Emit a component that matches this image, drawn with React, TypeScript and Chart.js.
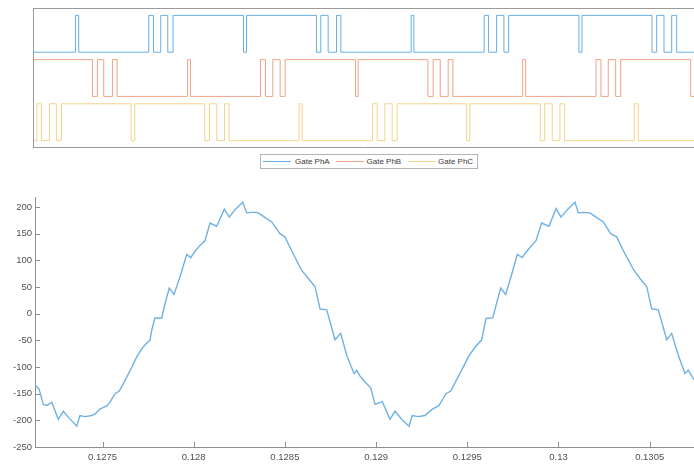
import React, { useEffect, useRef } from 'react';
import { Chart, registerables } from 'chart.js';

Chart.register(...registerables);

// ---------- data ----------
// Gate signals: switching instants (s); each instant toggles the state
const GATE_A_START = 0;
const GATE_A_EDGES = [
  0.1273531, 0.1273712, 0.1277549, 0.1277807, 0.1278207, 0.1278591, 0.1278882,
  0.1282741, 0.1282906, 0.1286744, 0.1286979, 0.128738, 0.128784, 0.1288076,
  0.129193, 0.1292078, 0.1295932, 0.1296173, 0.1296612, 0.1297012, 0.129727,
  0.1301124, 0.1301289, 0.1305126, 0.1305384, 0.1305784, 0.1306206, 0.130648,
];
const GATE_B_START = 1;
const GATE_B_EDGES = [
  0.1274463, 0.1274737, 0.1275082, 0.1275559, 0.1275811, 0.1279671, 0.1279836,
  0.1283673, 0.1283947, 0.1284348, 0.1284748, 0.1285022, 0.1288882, 0.1289024,
  0.1292846, 0.1293136, 0.129352, 0.1293959, 0.1294216, 0.1298038, 0.1298202,
  0.1302056, 0.130233, 0.130273, 0.1303136, 0.130341, 0.1307248,
];
const GATE_C_START = 0;
const GATE_C_EDGES = [
  0.1271425, 0.1271667, 0.1272105, 0.1272489, 0.1272763, 0.1276579, 0.1276782,
  0.128062, 0.1280877, 0.1281277, 0.12817, 0.1281952, 0.128579, 0.1285954,
  0.1289814, 0.1290066, 0.1290488, 0.1290888, 0.1291162, 0.1294967, 0.1295148,
  0.1299002, 0.1299244, 0.129966, 0.1300082, 0.130034, 0.1304156, 0.1304376,
];
const GATE_NAMES = ['Gate PhA', 'Gate PhB', 'Gate PhC'];
const GATE_OFFSETS = [2.4, 1.2, 0];

// Phase current
const CURRENT_T = [
  0.1271299, 0.1271519, 0.1271754, 0.1271941, 0.1272215, 0.1272577, 0.1272851, 0.1273125,
  0.1273586, 0.1273766, 0.1274041, 0.1274408, 0.1274589, 0.1274863, 0.127523, 0.1275411,
  0.1275685, 0.1275921, 0.1276234, 0.1276601, 0.1276875, 0.1277149, 0.1277423, 0.1277604,
  0.1277697, 0.1277878, 0.1278246, 0.1278427, 0.1278662, 0.127892, 0.1279249, 0.1279616,
  0.1279836, 0.1280071, 0.1280345, 0.128062, 0.1280894, 0.1281261, 0.1281678, 0.1281952,
  0.1282264, 0.1282686, 0.1282906, 0.128318, 0.1283454, 0.1283635, 0.1283909, 0.1284276,
  0.1284731, 0.1285006, 0.128546, 0.1285921, 0.1286283, 0.128665, 0.1286924, 0.1287292,
  0.1287747, 0.1288059, 0.1288388, 0.1288789, 0.1288936, 0.1289117, 0.1289392, 0.1289704,
  0.128994, 0.129034, 0.1290762, 0.1291036, 0.1291404, 0.1291804, 0.1291985, 0.1292314,
  0.1292681, 0.1293048, 0.1293449, 0.1293832, 0.129409, 0.12946, 0.1295055, 0.1295422,
  0.129579, 0.1296025, 0.1296393, 0.1296831, 0.1297105, 0.1297434, 0.1297741, 0.1298015,
  0.1298257, 0.1298766, 0.1299079, 0.1299479, 0.1299863, 0.1300137, 0.1300483, 0.1300905,
  0.1301086, 0.130136, 0.1301727, 0.1302094, 0.1302456, 0.1302862, 0.1303191, 0.1303646,
  0.130414, 0.1304468, 0.1304836, 0.130511, 0.1305472, 0.1305932, 0.1306206, 0.1306568,
  0.1306935, 0.1307116, 0.1307429,
];
const CURRENT_A = [
  -134, -141, -170, -172, -166, -198, -183, -194,
  -211, -191, -193, -191, -188, -179, -173, -166,
  -150, -145, -125, -101, -81, -66, -55, -50,
  -31, -8, -8, 19, 48, 36, 69, 111,
  105, 117, 128, 137, 170, 164, 196, 181,
  195, 209, 189, 190, 190, 187, 180, 172,
  150, 144, 112, 81, 66, 51, 9, 7,
  -49, -37, -78, -112, -106, -117, -128, -139,
  -170, -165, -198, -183, -198, -211, -191, -193,
  -191, -180, -172, -150, -145, -112, -81, -63,
  -49, -9, -8, 48, 36, 74, 111, 105,
  117, 137, 170, 164, 197, 181, 195, 209,
  189, 190, 189, 180, 172, 150, 144, 112,
  81, 66, 51, 9, 7, -49, -37, -78,
  -112, -106, -124,
];

const X_TICKS = [0.1275, 0.128, 0.1285, 0.129, 0.1295, 0.13, 0.1305];
const X_TICK_LABELS = ['0.1275', '0.128', '0.1285', '0.129', '0.1295', '0.13', '0.1305'];
const Y_TICKS = [-250, -200, -150, -100, -50, 0, 50, 100, 150, 200];
const Y_TICK_LABELS = ['-250', '-200', '-150', '-100', '-50', '0', '50', '100', '150', '200'];

// ---------- styling ----------
const X_MIN_TOP = 0.1271206;
const X_MIN_BOT = 0.1271299;
const X_MAX = 0.1307429;
const Y_MIN = -250;
const Y_MAX = 218.75;
const GATE_COLORS = ['#68aee2', '#f0a385', '#f4d38c'];
const CURRENT_COLOR = '#6eb1e4';
const AXIS_COLOR = '#8f8f8f';
const FONT = '"Liberation Sans", Arial, Helvetica, sans-serif';

function stepPoints(edges: number[], start: number, offset: number, xmin: number, xmax: number) {
  let s = start;
  const pts = [{ x: xmin, y: offset + s }];
  for (const t of edges) {
    s = 1 - s;
    pts.push({ x: t, y: offset + s });
  }
  pts.push({ x: xmax, y: offset + s });
  return pts;
}

const boxPlugin = {
  id: 'boxPlugin',
  afterDraw(chart: any) {
    const { ctx, chartArea } = chart;
    ctx.save();
    ctx.strokeStyle = '#9a9a9a';
    ctx.lineWidth = 1;
    ctx.beginPath();
    ctx.moveTo(chartArea.left + 0.5, chartArea.top + 0.5);
    ctx.lineTo(chartArea.right, chartArea.top + 0.5);
    ctx.moveTo(chartArea.left + 0.5, chartArea.top);
    ctx.lineTo(chartArea.left + 0.5, chartArea.bottom);
    ctx.moveTo(chartArea.left, chartArea.bottom - 0.5);
    ctx.lineTo(chartArea.right, chartArea.bottom - 0.5);
    ctx.stroke();
    ctx.restore();
  },
};

const innerTicksPlugin = {
  id: 'innerTicks',
  afterDraw(chart: any) {
    const { ctx, chartArea, scales } = chart;
    ctx.save();
    ctx.strokeStyle = AXIS_COLOR;
    ctx.lineWidth = 1;
    ctx.beginPath();
    for (const v of Y_TICKS) {
      const y = Math.round(scales.y.getPixelForValue(v)) + 0.5;
      ctx.moveTo(chartArea.left, y);
      ctx.lineTo(chartArea.left + 5, y);
    }
    for (const v of X_TICKS) {
      const x = Math.round(scales.x.getPixelForValue(v)) + 0.5;
      ctx.moveTo(x, chartArea.bottom);
      ctx.lineTo(x, chartArea.bottom - 5);
    }
    ctx.stroke();
    ctx.restore();
  },
};

// legend layout (page px)
const LEGEND_LINE_X = [263, 336, 407.5];
const LEGEND_TEXT_X = [295, 366.5, 438];

export default function App() {
  const topRef = useRef<HTMLCanvasElement>(null);
  const botRef = useRef<HTMLCanvasElement>(null);

  useEffect(() => {
    const edges = [GATE_A_EDGES, GATE_B_EDGES, GATE_C_EDGES];
    const starts = [GATE_A_START, GATE_B_START, GATE_C_START];
    const top = new Chart(topRef.current as HTMLCanvasElement, {
      type: 'line',
      data: {
        datasets: GATE_NAMES.map((name, i) => ({
          label: name,
          data: stepPoints(edges[i], starts[i], GATE_OFFSETS[i], X_MIN_TOP, X_MAX),
          borderColor: GATE_COLORS[i],
          borderWidth: 1,
          stepped: true,
          pointRadius: 0,
          fill: false,
        })),
      },
      options: {
        animation: false,
        responsive: false,
        maintainAspectRatio: false,
        parsing: false,
        layout: { padding: { left: 33, top: 8, right: 0, bottom: 2 } },
        plugins: { legend: { display: false }, tooltip: { enabled: false } },
        scales: {
          x: { type: 'linear', min: X_MIN_TOP, max: X_MAX, display: false },
          y: { type: 'linear', min: -0.2, max: 3.6, display: false },
        },
      },
      plugins: [boxPlugin],
    } as any);

    const bot = new Chart(botRef.current as HTMLCanvasElement, {
      type: 'line',
      data: {
        datasets: [
          {
            label: 'Current',
            data: CURRENT_T.map((t, i) => ({ x: t, y: CURRENT_A[i] })),
            borderColor: CURRENT_COLOR,
            borderWidth: 1.4,
            pointRadius: 0,
            tension: 0,
            fill: false,
          },
        ],
      },
      options: {
        animation: false,
        responsive: false,
        maintainAspectRatio: false,
        parsing: false,
        layout: { padding: { left: 0, top: 17, right: 0, bottom: 0 } },
        plugins: { legend: { display: false }, tooltip: { enabled: false } },
        scales: {
          x: {
            type: 'linear',
            min: X_MIN_BOT,
            max: X_MAX,
            afterBuildTicks: (scale: any) => {
              scale.ticks = X_TICKS.map((v) => ({ value: v }));
            },
            afterFit: (scale: any) => {
              scale.height = 17;
            },
            grid: { display: false, drawTicks: false },
            border: { display: true, color: AXIS_COLOR, width: 1 },
            ticks: {
              autoSkip: false,
              maxRotation: 0,
              padding: 5,
              color: '#505050',
              font: { family: FONT, size: 9.5 },
              callback: (_v: any, i: number) => X_TICK_LABELS[i],
            },
          },
          y: {
            type: 'linear',
            min: Y_MIN,
            max: Y_MAX,
            afterBuildTicks: (scale: any) => {
              scale.ticks = Y_TICKS.map((v) => ({ value: v }));
            },
            afterFit: (scale: any) => {
              scale.width = 35;
            },
            grid: { display: false, drawTicks: false },
            border: { display: true, color: AXIS_COLOR, width: 1 },
            ticks: {
              autoSkip: false,
              padding: 3,
              color: '#505050',
              font: { family: FONT, size: 9.5 },
              callback: (_v: any, i: number) => Y_TICK_LABELS[i],
            },
          },
        },
      },
      plugins: [innerTicksPlugin],
    } as any);

    return () => {
      top.destroy();
      bot.destroy();
    };
  }, []);

  return (
    <div style={{ position: 'absolute', left: 0, top: 0, width: 694, height: 464, background: '#fff', overflow: 'hidden' }}>
      <canvas
        ref={topRef}
        width={694}
        height={150}
        style={{ position: 'absolute', left: 0, top: 0, width: 694, height: 150, display: 'block' }}
      />
      <div
        style={{
          position: 'absolute',
          left: 260,
          top: 154,
          width: 216,
          height: 13,
          border: '1px solid #b4b4b4',
          background: '#fff',
        }}
      />
      {GATE_NAMES.map((name, i) => (
        <React.Fragment key={name}>
          <div
            style={{
              position: 'absolute',
              left: LEGEND_LINE_X[i],
              top: 161,
              width: 28,
              height: 0,
              borderTop: `1px solid ${GATE_COLORS[i]}`,
            }}
          />
          <div
            style={{
              position: 'absolute',
              left: LEGEND_TEXT_X[i],
              top: 155,
              height: 13,
              lineHeight: '13px',
              fontFamily: FONT,
              fontSize: 8,
              color: '#3a3a3a',
              whiteSpace: 'nowrap',
            }}
          >
            {name}
          </div>
        </React.Fragment>
      ))}
      <canvas
        ref={botRef}
        width={694}
        height={284}
        style={{ position: 'absolute', left: 0, top: 180, width: 694, height: 284, display: 'block' }}
      />
    </div>
  );
}
